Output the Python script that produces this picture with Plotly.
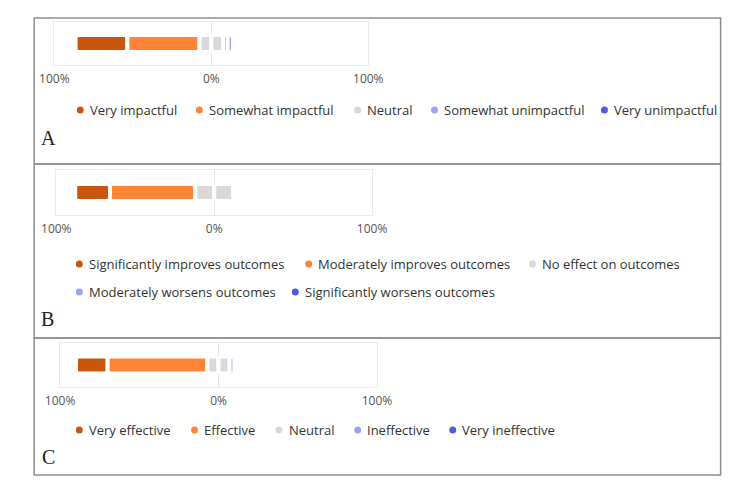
import numpy as np
import plotly.graph_objects as go

# ---------------- data ----------------
panel_letters = ["A", "B", "C"]
categories_A = ["Very impactful", "Somewhat impactful", "Neutral", "Somewhat unimpactful", "Very unimpactful"]
categories_B = ["Significantly improves outcomes", "Moderately improves outcomes", "No effect on outcomes",
                "Moderately worsens outcomes", "Significantly worsens outcomes"]
categories_C = ["Very effective", "Effective", "Neutral", "Ineffective", "Very ineffective"]
values_A = [33, 46, 15, 3, 3]
values_B = [22, 54, 24, 0, 0]
values_C = [20, 63, 14, 3, 0]
tick_values = [-100, 0, 100]
tick_labels = ["100%", "0%", "100%"]

# ---------------- style ----------------
colors = ["#c8560f", "#ff8438", "#d9d9d9", "#98a3f4", "#4c5be6"]
W, H = 750, 498
FONT = "Open Sans, sans-serif"


def px_x(x):
    return x / W


def px_y(y):
    return 1 - y / H


# layout per panel (pixel geometry)
panels = [
    dict(cats=categories_A, vals=values_A, frame=(20, 18, 735, 164), plot=(41, 22, 368, 65),
         legend=[(110, [68, 192, 357, 437, 614], [0, 1, 2, 3, 4])], letter=(35, 138)),
    dict(cats=categories_B, vals=values_B, frame=(20, 164, 735, 338), plot=(43, 170, 372, 215),
         legend=[(264, [67, 306, 539], [0, 1, 2]), (292, [67, 292], [3, 4])], letter=(34, 319)),
    dict(cats=categories_C, vals=values_C, frame=(20, 338, 735, 475), plot=(47, 343, 377, 387),
         legend=[(430, [67, 187, 275, 357, 456], [0, 1, 2, 3, 4])], letter=(35, 457)),
]

BAR_PX = 17  # visible thickness 13 + white outline

fig = go.Figure()
shapes = []
annotations = []

for i, p in enumerate(panels):
    idx = "" if i == 0 else str(i + 1)
    xa, ya = "x" + idx, "y" + idx
    v = np.array(p["vals"], dtype=float)
    half = v[2] / 2
    # segments: (length, base, color index)
    segs = [
        (v[0], -(v[0] + v[1] + half), 0),
        (v[1], -(v[1] + half), 1),
        (half, -half, 2),
        (half, 0.0, 2),
        (v[3], half, 3),
        (v[4], half + v[3], 4),
    ]
    x0, y0, x1, y1 = p["plot"]
    width = BAR_PX / (y1 - y0)
    for length, base, ci in segs:
        if length <= 0:
            continue
        fig.add_trace(go.Bar(
            x=[length], base=[base], y=[0], orientation="h", width=width,
            marker=dict(color=colors[ci], line=dict(color="white", width=4), cornerradius=3),
            xaxis=xa, yaxis=ya, showlegend=False, hoverinfo="skip"))

    fig.update_layout(**{
        "xaxis" + idx: dict(domain=[px_x(x0), px_x(x1)], range=[-100, 100], anchor=ya,
                            tickvals=tick_values, ticktext=tick_labels,
                            showgrid=False, zeroline=True, zerolinecolor="#e4e4e4", zerolinewidth=1,
                            showline=True, mirror=True, linecolor="#ebebeb", linewidth=1,
                            ticks="outside", ticklen=3, tickcolor="rgba(0,0,0,0)",
                            tickfont=dict(family=FONT, size=12, color="#555555"), fixedrange=True),
        "yaxis" + idx: dict(domain=[px_y(y1), px_y(y0)], range=[-0.5, 0.5], anchor=xa,
                            showticklabels=False, showgrid=False, zeroline=False,
                            showline=True, mirror=True, linecolor="#ebebeb", linewidth=1,
                            fixedrange=True),
    })

    # frame
    fx0, fy0, fx1, fy1 = p["frame"]
    shapes.append(dict(type="rect", xref="paper", yref="paper",
                       x0=px_x(fx0), x1=px_x(fx1), y0=px_y(fy1), y1=px_y(fy0),
                       line=dict(color="#8e8e8e", width=1.5), fillcolor="rgba(0,0,0,0)"))

    # legend
    for ly, dots, items in p["legend"]:
        for dx, k in zip(dots, items):
            r = 3.6
            shapes.append(dict(type="circle", xref="paper", yref="paper",
                               x0=px_x(dx - r), x1=px_x(dx + r), y0=px_y(ly + r), y1=px_y(ly - r),
                               fillcolor=colors[k], line=dict(width=0)))
            annotations.append(dict(x=px_x(dx + 8), y=px_y(ly), xref="paper", yref="paper",
                                    text=p["cats"][k], showarrow=False, xanchor="left", yanchor="middle",
                                    font=dict(family=FONT, size=13, color="#333333")))
    # panel letter
    lx, lyy = p["letter"]
    annotations.append(dict(x=px_x(lx), y=px_y(lyy), xref="paper", yref="paper", text=panel_letters[i],
                            showarrow=False, xanchor="center", yanchor="middle",
                            font=dict(family="Liberation Serif, serif", size=20, color="#222222")))

fig.update_layout(width=W, height=H, margin=dict(l=0, r=0, t=0, b=0), barmode="overlay",
                  paper_bgcolor="white", plot_bgcolor="white", shapes=shapes, annotations=annotations,
                  showlegend=False)

fig.write_html("out.html")
